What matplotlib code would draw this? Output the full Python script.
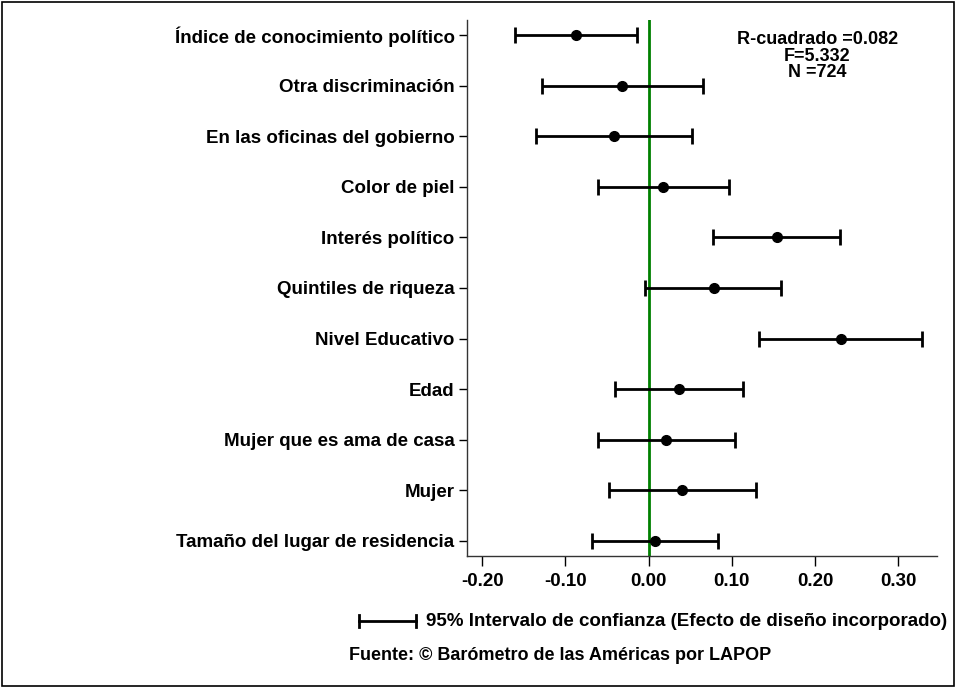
import matplotlib
matplotlib.use("Agg")
import matplotlib.pyplot as plt
from matplotlib.patches import Rectangle
from matplotlib.lines import Line2D

labels = ["Índice de conocimiento político", "Otra discriminación",
          "En las oficinas del gobierno", "Color de piel", "Interés político",
          "Quintiles de riqueza", "Nivel Educativo", "Edad",
          "Mujer que es ama de casa", "Mujer", "Tamaño del lugar de residencia"]
coef = [-0.087, -0.032, -0.042, 0.017, 0.154, 0.078, 0.231, 0.036, 0.021, 0.040, 0.007]
lower = [-0.161, -0.128, -0.135, -0.061, 0.077, -0.004, 0.133, -0.040, -0.061, -0.048, -0.068]
upper = [-0.014, 0.065, 0.052, 0.097, 0.230, 0.159, 0.328, 0.113, 0.104, 0.129, 0.083]
xticks = [-0.20, -0.10, 0.00, 0.10, 0.20, 0.30]
xticklabels = ["-0.20", "-0.10", "0.00", "0.10", "0.20", "0.30"]
stats_text = "R-cuadrado =0.082\nF=5.332\nN =724"
legend_text = "95% Intervalo de confianza (Efecto de diseño incorporado)"
source_text = "Fuente: © Barómetro de las Américas por LAPOP"

plt.rcParams['font.family'] = ['Liberation Sans', 'DejaVu Sans']
plt.rcParams['font.weight'] = 'bold'

fig = plt.figure(figsize=(9.55, 6.87), dpi=100)
W, H = 955, 687
ax = fig.add_axes([467 / W, 1 - 556 / H, (937 - 467) / W, (556 - 20) / H])

n = len(labels)
ypos = list(range(n))
xerr = [[c - l for c, l in zip(coef, lower)], [u - c for c, u in zip(coef, upper)]]
ax.axvline(0, color="#008000", lw=2.0, zorder=1)
ax.errorbar(coef, ypos, xerr=xerr, fmt="o", color="black", ecolor="black",
            elinewidth=2.0, capsize=6, capthick=2.0, markersize=7, zorder=3)

ax.set_ylim(n - 1 + 0.30, -0.30)
ax.set_xlim(-0.2183, 0.3464)
ax.set_yticks(ypos)
ax.set_yticklabels(labels, fontsize=13.5, fontweight="bold")
ax.set_xticks(xticks)
ax.set_xticklabels(xticklabels, fontsize=13.5, fontweight="bold")
ax.tick_params(axis="y", length=6, width=1.0, pad=3)
ax.tick_params(axis="x", length=7, width=1.0, pad=5)
for s in ["top", "right"]:
    ax.spines[s].set_visible(False)
for s in ["left", "bottom"]:
    ax.spines[s].set_linewidth(1.0)
    ax.spines[s].set_color("#333333")

ax.text(0.745, 0.979, stats_text, transform=ax.transAxes, ha="center", va="top",
        fontsize=13, fontweight="bold", linespacing=0.95)

# legend: errorbar sample
ly = 1 - 621 / H
fig.add_artist(Line2D([359 / W, 416 / W], [ly, ly], color="black", lw=2.0,
                      transform=fig.transFigure))
for xc in (359, 416):
    fig.add_artist(Line2D([xc / W, xc / W], [ly - 6 / H, ly + 6 / H], color="black",
                          lw=2.0, transform=fig.transFigure))
fig.text(426 / W, ly, legend_text, ha="left", va="center", fontsize=13.5, fontweight="bold")
fig.text(560 / W, 1 - 656 / H, source_text, ha="center", va="center",
         fontsize=13, fontweight="bold")

fig.add_artist(Rectangle((1.5 / W, 1.5 / H), (W - 3) / W, (H - 3) / H,
                         transform=fig.transFigure, fill=False, edgecolor="black", lw=1.2))

fig.savefig("out.png", dpi=100)
